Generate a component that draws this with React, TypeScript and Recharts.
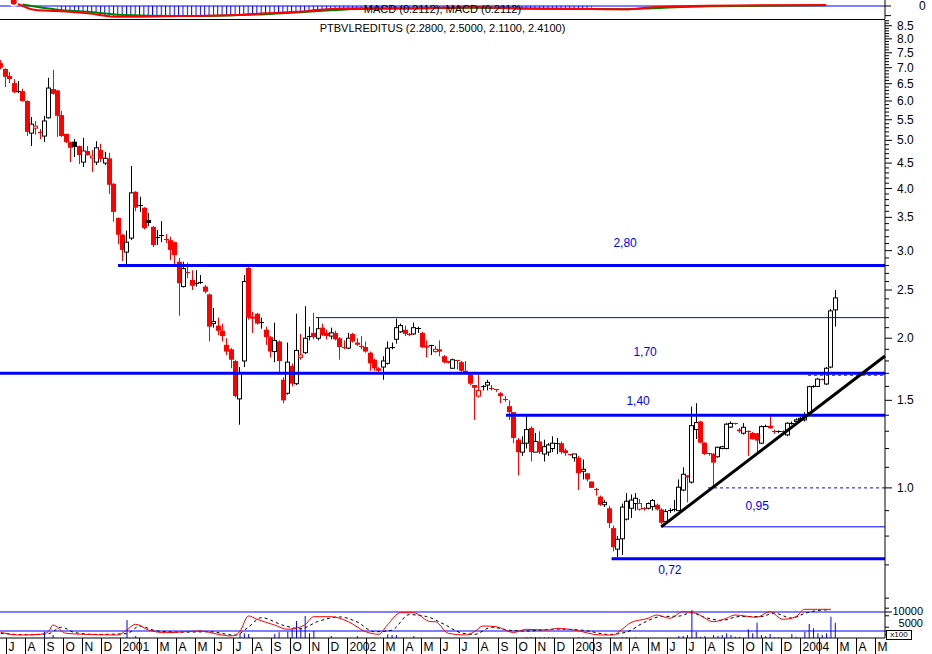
import { ComposedChart, Bar, Line, Area, XAxis, YAxis, ReferenceLine, ReferenceDot } from 'recharts';

const FONT = '"Liberation Sans", Arial, sans-serif';
const BLUE = '#0000ff';
const RED = '#ff0000';
const AXIS_W = 47;
const X_DOMAIN: [number, number] = [-0.16, 203.52];

// weekly candles, week 0 = last week of June 2000
const opens = [
  7.15, 6.96, 6.74, 6.52, 6.28, 6.28, 6.0, 5.17, 5.29, 5.19,
  5.1, 5.55, 6.34, 6.3, 5.62, 5.15, 4.96, 4.97, 4.87, 4.52,
  4.76, 4.61, 4.52, 4.78, 4.5, 4.6, 4.09, 3.49, 3.23, 2.98,
  3.18, 3.94, 3.71, 3.66, 3.46, 3.35, 3.19, 3.22, 3.17, 3.15,
  3.12, 2.85, 2.54, 2.72, 2.62, 2.58, 2.59, 2.54, 2.45, 2.14,
  2.12, 2.07, 1.94, 1.9, 1.8, 1.51, 1.8, 2.77, 2.21, 2.24,
  2.16, 2.08, 2.01, 1.88, 1.97, 1.65, 1.55, 1.76, 1.62, 1.83,
  1.87, 2.01, 2.05, 2.0, 2.1, 2.05, 2.02, 2.05, 2.0, 1.92,
  1.91, 2.04, 1.96, 1.93, 1.92, 1.87, 1.81, 1.74, 1.75, 1.78,
  1.91, 1.99, 2.06, 2.08, 2.04, 2.04, 2.1, 2.05, 1.93, 1.94,
  1.88, 1.9, 1.84, 1.8, 1.74, 1.81, 1.79, 1.72, 1.69, 1.61,
  1.53, 1.6, 1.61, 1.59, 1.58, 1.55, 1.51, 1.46, 1.42, 1.25,
  1.18, 1.23, 1.32, 1.18, 1.24, 1.17, 1.18, 1.2, 1.23, 1.23,
  1.19, 1.17, 1.15, 1.15, 1.08, 1.07, 1.03, 0.995, 0.96, 0.925,
  0.91, 0.83, 0.753, 0.79, 0.865, 0.91, 0.93, 0.906, 0.91, 0.91,
  0.917, 0.925, 0.905, 0.856, 0.9, 0.9, 0.9, 0.99, 1.06, 1.027,
  1.31, 1.36, 1.233, 1.175, 1.17, 1.155, 1.2, 1.2, 1.325, 1.35,
  1.31, 1.288, 1.3, 1.29, 1.288, 1.23, 1.33, 1.333, 1.3, 1.298,
  1.3, 1.278, 1.345, 1.36, 1.37, 1.37, 1.417, 1.596, 1.6, 1.655,
  1.618, 1.75, 2.28,
];
const highs = [
  7.25, 6.98, 6.86, 6.64, 6.58, 6.35, 6.02, 5.57, 5.47, 5.27,
  5.6, 6.68, 6.93, 6.32, 5.73, 5.16, 4.97, 5.03, 4.88, 5.06,
  4.87, 4.78, 4.98, 4.92, 4.74, 4.72, 4.1, 3.5, 3.24, 3.29,
  4.44, 3.95, 3.85, 3.67, 3.57, 3.36, 3.3, 3.44, 3.24, 3.2,
  3.13, 2.9, 2.85, 2.84, 2.74, 2.74, 2.68, 2.56, 2.46, 2.3,
  2.2, 2.14, 2.0, 1.91, 1.81, 1.75, 2.68, 2.78, 2.26, 2.25,
  2.2, 2.11, 2.02, 2.15, 1.98, 1.67, 1.96, 1.78, 2.24, 2.04,
  2.32, 2.11, 2.25, 2.2, 2.14, 2.08, 2.1, 2.07, 2.01, 1.98,
  2.05, 2.05, 2.0, 2.02, 1.97, 1.88, 1.82, 1.75, 1.84, 1.97,
  1.96, 2.19, 2.14, 2.12, 2.05, 2.15, 2.11, 2.06, 1.98, 1.94,
  1.93, 1.98, 1.85, 1.8, 1.82, 1.81, 1.8, 1.8, 1.7, 1.61,
  1.69, 1.61, 1.65, 1.61, 1.58, 1.56, 1.53, 1.5, 1.42, 1.26,
  1.27, 1.4, 1.33, 1.29, 1.3, 1.25, 1.23, 1.27, 1.26, 1.24,
  1.2, 1.17, 1.17, 1.16, 1.14, 1.07, 1.03, 1.0, 0.965, 0.945,
  0.92, 0.84, 0.8, 0.93, 0.976, 0.97, 0.976, 0.95, 0.915, 0.935,
  0.95, 0.93, 0.91, 0.906, 0.91, 0.946, 1.04, 1.1, 1.06, 1.457,
  1.48, 1.365, 1.235, 1.175, 1.175, 1.21, 1.215, 1.35, 1.36, 1.352,
  1.32, 1.35, 1.305, 1.295, 1.29, 1.335, 1.34, 1.4, 1.31, 1.305,
  1.305, 1.355, 1.36, 1.38, 1.39, 1.42, 1.605, 1.61, 1.665, 1.66,
  1.75, 2.29, 2.5,
];
const lows = [
  6.95, 6.4, 6.52, 6.22, 6.22, 5.98, 5.1, 4.87, 5.13, 5.03,
  4.96, 5.53, 6.18, 5.08, 5.08, 4.94, 4.52, 4.63, 4.48, 4.42,
  4.66, 4.32, 4.46, 4.52, 4.46, 3.9, 3.43, 3.09, 2.86, 2.79,
  3.15, 3.6, 3.59, 3.31, 3.36, 3.05, 3.08, 3.12, 3.11, 2.87,
  2.81, 2.22, 2.53, 2.64, 2.5, 2.54, 2.57, 2.46, 1.97, 2.1,
  2.03, 1.97, 1.85, 1.74, 1.52, 1.34, 1.75, 2.18, 2.05, 2.13,
  2.09, 1.94, 1.83, 1.79, 1.71, 1.48, 1.54, 1.6, 1.61, 1.81,
  1.86, 1.98, 1.99, 1.98, 2.02, 1.99, 1.99, 1.98, 1.81, 1.9,
  1.9, 1.96, 1.93, 1.9, 1.87, 1.72, 1.72, 1.71, 1.65, 1.77,
  1.9, 1.95, 2.05, 2.02, 2.02, 2.03, 2.05, 1.91, 1.83, 1.85,
  1.87, 1.84, 1.78, 1.78, 1.74, 1.73, 1.71, 1.69, 1.61, 1.37,
  1.52, 1.57, 1.57, 1.57, 1.56, 1.48, 1.49, 1.37, 1.23, 1.06,
  1.16, 1.2, 1.13, 1.18, 1.17, 1.13, 1.16, 1.18, 1.17, 1.17,
  1.16, 1.16, 1.13, 0.99, 1.04, 1.03, 1.0, 0.965, 0.92, 0.915,
  0.83, 0.745, 0.725, 0.733, 0.86, 0.87, 0.9, 0.9, 0.9, 0.905,
  0.9, 0.9, 0.845, 0.85, 0.89, 0.896, 0.9, 0.985, 0.935, 1.02,
  1.254, 1.23, 1.165, 1.16, 1.006, 1.15, 1.195, 1.195, 1.32, 1.34,
  1.29, 1.28, 1.16, 1.25, 1.174, 1.225, 1.325, 1.315, 1.285, 1.29,
  1.29, 1.27, 1.34, 1.355, 1.365, 1.36, 1.41, 1.59, 1.595, 1.645,
  1.61, 1.74, 2.11,
];
const closes = [
  7.0, 6.71, 6.64, 6.25, 6.26, 6.0, 5.2, 5.39, 5.34, 5.17,
  5.47, 6.37, 6.2, 5.6, 5.1, 4.96, 4.83, 4.85, 4.67, 4.76,
  4.67, 4.65, 4.83, 4.59, 4.6, 4.07, 3.59, 3.23, 3.01, 3.12,
  3.92, 3.66, 3.69, 3.33, 3.41, 3.08, 3.17, 3.23, 3.16, 3.01,
  2.94, 2.58, 2.76, 2.71, 2.55, 2.57, 2.6, 2.48, 2.11, 2.16,
  2.07, 2.02, 1.88, 1.81, 1.53, 1.7, 2.6, 2.2, 2.19, 2.14,
  2.15, 2.01, 1.88, 1.98, 1.8, 1.5, 1.79, 1.62, 1.89, 1.85,
  2.0, 2.02, 2.01, 2.09, 2.03, 2.02, 2.05, 1.99, 1.92, 1.91,
  2.0, 1.97, 1.94, 1.92, 1.88, 1.78, 1.74, 1.72, 1.8, 1.91,
  1.92, 2.1, 2.12, 2.04, 2.03, 2.1, 2.1, 1.92, 1.915, 1.94,
  1.9, 1.88, 1.79, 1.785, 1.81, 1.8, 1.72, 1.7, 1.62, 1.59,
  1.57, 1.605, 1.63, 1.58, 1.57, 1.53, 1.5, 1.42, 1.26, 1.18,
  1.23, 1.31, 1.18, 1.24, 1.18, 1.21, 1.22, 1.23, 1.23, 1.18,
  1.175, 1.165, 1.17, 1.07, 1.09, 1.04, 1.0, 0.99, 0.925, 0.935,
  0.85, 0.76, 0.788, 0.915, 0.94, 0.945, 0.953, 0.93, 0.905, 0.93,
  0.943, 0.905, 0.851, 0.896, 0.902, 0.905, 1.003, 1.065, 1.05, 1.334,
  1.353, 1.233, 1.17, 1.168, 1.124, 1.207, 1.21, 1.343, 1.348, 1.345,
  1.3, 1.324, 1.298, 1.253, 1.245, 1.328, 1.334, 1.318, 1.298, 1.3,
  1.295, 1.349, 1.352, 1.37, 1.38, 1.395, 1.598, 1.6, 1.655, 1.65,
  1.74, 2.27, 2.41,
];

// MACD panel
const macdWeeks = [3, 8, 13, 20, 27, 41, 54, 61, 68, 75, 82, 95, 109, 122, 136, 144, 150, 163, 190];
const macdValues = [0.9, -0.84, -1.05, -1.53, -2.25, -2.1, -1.89, -1.53, -1.2, -0.69, -0.48, -0.48, -0.27, -0.57, -0.63, -0.69, -0.27, 0.06, 0.21];
const signalWeeks = [5, 13, 20, 27, 41, 54, 61, 68, 75, 82, 95, 109, 122, 136, 144, 150, 163, 190];
const signalValues = [0.3, -0.75, -1.2, -1.8, -2.1, -1.9, -1.7, -1.35, -0.95, -0.6, -0.5, -0.35, -0.5, -0.6, -0.65, -0.45, -0.05, 0.15];

// volume panel (x100)
const volWeeks = [10, 12, 29, 31, 55, 56, 57, 63, 64, 66, 67, 68, 69, 70, 71, 72, 76, 82, 89, 90, 91, 95, 121, 122, 123, 124, 125, 126, 127, 133, 134, 143, 144, 146, 156, 157, 158, 159, 160, 161, 162, 164, 165, 166, 167, 168, 169, 170, 172, 173, 174, 175, 176, 177, 178, 179, 182, 183, 185, 186, 187, 188, 189, 190, 191, 192];
const volValues = [4820, 3950, 7890, 3700, 4390, 4390, 4210, 4210, 4650, 4820, 5700, 7630, 5700, 8950, 4390, 5090, 3690, 3690, 4130, 3950, 3950, 3690, 3340, 3340, 3340, 3340, 3340, 3340, 3340, 3340, 3340, 3340, 3340, 3340, 3690, 3690, 3950, 10520, 4820, 3520, 3690, 3950, 3690, 3950, 4390, 3950, 3520, 3520, 5440, 4390, 7190, 3950, 3690, 4210, 3340, 3340, 4210, 3520, 4820, 6840, 5700, 4390, 3950, 4390, 8770, 7190];
const volAvgWeeks = [0, 4, 9, 11, 12, 15, 19, 27, 29, 31, 34, 38, 46, 50, 53, 55, 57, 59, 63, 66, 70, 72, 76, 80, 84, 87, 89, 92, 95, 99, 100, 103, 107, 109, 111, 114, 118, 121, 126, 128, 132, 138, 141, 143, 145, 149, 151, 154, 157, 160, 164, 167, 169, 174, 177, 180, 183, 185, 188, 191];
const volAvgValues = [4660, 3950, 4130, 4820, 6580, 4400, 4130, 3950, 5260, 6760, 5260, 4550, 5000, 4130, 3690, 4820, 8950, 8080, 6580, 5450, 6580, 8760, 8760, 7450, 4820, 4130, 6580, 9810, 9810, 7450, 7450, 4400, 3950, 4820, 6320, 6140, 4600, 5450, 5260, 5710, 5260, 3950, 3950, 5450, 7190, 8340, 9210, 8340, 10080, 9660, 7450, 8340, 9210, 8600, 10080, 8080, 8760, 10700, 10700, 10700];
const volSlowWeeks = [0, 6, 11, 14, 17, 22, 29, 32, 36, 42, 48, 54, 57, 60, 65, 69, 73, 78, 82, 86, 90, 94, 98, 102, 106, 109, 113, 117, 121, 128, 134, 140, 144, 148, 152, 156, 159, 162, 166, 170, 175, 178, 182, 185, 188, 191];
const volSlowValues = [4400, 4000, 4300, 6000, 4600, 4100, 4300, 6300, 5000, 4700, 4800, 3900, 6000, 8500, 6500, 5600, 7500, 8700, 7400, 4800, 5200, 9300, 8800, 6800, 4500, 4100, 6000, 5200, 5000, 5500, 5200, 4100, 4700, 7200, 8800, 8900, 9800, 8600, 7800, 8800, 8800, 9700, 8400, 9600, 10400, 10600];

// support / resistance levels
const thickLevels = [2.8, 1.7, 1.4, 0.72];
const thickStarts = [27, -0.16, 116.3, 140.6];
const thinLevels = [2.2, 0.835];
const thinStarts = [72.5, 152];
const dashLevels = [1.0, 1.685];
const dashStarts = [162.8, 185.8];
const levelLabels = ['2,80', '1,70', '1,40', '0,95', '0,72'];
const labelWeeks = [143.7, 148.3, 146.7, 174.1, 154.0];
const labelPrices = [3.11, 1.877, 1.5, 0.92, 0.684];
const trendWeeks = [152, 203.52];
const trendPrices = [0.835, 1.842];

const monthLabels = [
  'J', 'A', 'S', 'O', 'N', 'D',
  '2001', '', 'M', 'A', 'M', 'J', 'J', 'A', 'S', 'O', 'N', 'D',
  '2002', '', 'M', 'A', 'M', 'J', 'J', 'A', 'S', 'O', 'N', 'D',
  '2003', '', 'M', 'A', 'M', 'J', 'J', 'A', 'S', 'O', 'N', 'D',
  '2004', '', 'M', 'A', 'M',
];

const candles = opens.map((open, i) => ({
  i,
  open,
  high: highs[i],
  low: lows[i],
  close: closes[i],
  prev: i > 0 ? closes[i - 1] : open,
  range: [lows[i], highs[i]],
}));
const macdData = macdWeeks.map((i, k) => ({ i, v: macdValues[k] }));
const histData = macdData.filter((d) => d.i >= 13 && d.i <= 136);
const signalData = signalWeeks.map((i, k) => ({ i, v: signalValues[k] }));
const volData = volWeeks.map((i, k) => ({ i, v: volValues[k] }));
const volAvgData = volAvgWeeks.map((i, k) => ({ i, v: volAvgValues[k] }));
const volSlowData = volSlowWeeks.map((i, k) => ({ i, v: volSlowValues[k] }));

// month ticks on the week axis (week 0 starts 22 Jun 2000)
const WEEK0 = Date.UTC(2000, 5, 22, 12);
const monthTicks = monthLabels.map((_, m) => (Date.UTC(2000, 6 + m, 1) - WEEK0) / (7 * 86400000));

const priceMinorTicks: number[] = [];
for (let k = 6; k <= 87; k++) priceMinorTicks.push(k / 10);

const Candle = (props: any) => {
  const { x, y, width, height, payload } = props;
  if (!payload || x == null) return null;
  const { open, close, high, low, prev } = payload;
  const top = Math.min(y, y + height);
  const h = Math.abs(height);
  const span = Math.log(high) - Math.log(low);
  const toY = (v: number) => (span > 0 ? top + (h * (Math.log(high) - Math.log(v))) / span : top);
  const cx = Math.round(x + width / 2);
  const color = close < prev ? RED : '#000000';
  const bTop = toY(Math.max(open, close));
  const bBot = toY(Math.min(open, close));
  const bh = bBot - bTop;
  return (
    <g>
      <line x1={cx + 0.5} x2={cx + 0.5} y1={top} y2={top + h} stroke={color} strokeWidth={1} />
      {bh < 1.5 ? (
        <line x1={cx - 2} x2={cx + 3} y1={Math.round(bTop) + 0.5} y2={Math.round(bTop) + 0.5} stroke={color} strokeWidth={1} />
      ) : close > open ? (
        <rect x={cx - 1.5} y={bTop} width={4} height={bh} fill="#ffffff" stroke={color} strokeWidth={1} />
      ) : (
        <rect x={cx - 2} y={bTop} width={5} height={bh} fill={color} />
      )}
    </g>
  );
};

const PriceTick = (props: any) => {
  const { x, y, payload } = props;
  const v = payload.value;
  const major = v >= 1 && Math.abs(v * 2 - Math.round(v * 2)) < 1e-6;
  return (
    <g>
      <line x1={x} x2={x + (major ? 7 : 4)} y1={y} y2={y} stroke="#000" />
      {major && (
        <text x={x + 12} y={y + 4} fontSize={12} fontFamily={FONT} fill="#000">
          {v.toFixed(1)}
        </text>
      )}
    </g>
  );
};

const MacdTick = (props: any) => {
  const { x, y, payload } = props;
  return (
    <g>
      <line x1={x} x2={x + 6} y1={y} y2={y} stroke="#000" />
      {payload.value === 0 && (
        <text x={x + 34} y={y + 4} fontSize={12} fontFamily={FONT} fill="#000">
          0
        </text>
      )}
    </g>
  );
};

const VolTick = (props: any) => {
  const { x, y, payload } = props;
  const labelled = payload.value === 5000 || payload.value === 10000;
  return (
    <g>
      <line x1={x} x2={x + (labelled ? 7 : 4)} y1={y} y2={y} stroke="#000" />
      {labelled && (
        <text x={x + 38} y={payload.value === 5000 ? y - 4 : y + 3} fontSize={11} fontFamily={FONT} fill="#000" textAnchor="end">
          {payload.value}
        </text>
      )}
    </g>
  );
};

const MonthTick = (props: any) => {
  const { x, y, index } = props;
  const px = Math.round(x) + 0.5;
  return (
    <g>
      <line x1={px} x2={px} y1={y} y2={y + 16} stroke="#000" />
      <text x={px + 2} y={y + 13} fontSize={12} fontFamily={FONT} fill="#000">
        {monthLabels[index]}
      </text>
    </g>
  );
};

export default function App() {
  return (
    <div style={{ position: 'absolute', left: 0, top: 0, width: 932, height: 654, background: '#fff', overflow: 'hidden', fontFamily: FONT }}>
      {/* MACD panel */}
      <div style={{ position: 'absolute', left: 0, top: 0 }}>
        <ComposedChart width={932} height={19} data={histData} margin={{ top: 0, right: 0, bottom: 0, left: 0 }}>
          <defs>
            <pattern id="macdHatch" patternUnits="userSpaceOnUse" width={4.345} height={20}>
              <rect x={0} y={0} width={1} height={20} fill={BLUE} />
            </pattern>
          </defs>
          <XAxis dataKey="i" type="number" domain={X_DOMAIN} allowDataOverflow hide />
          <YAxis
            orientation="right"
            width={AXIS_W}
            type="number"
            domain={[-2.7, 1.25]}
            allowDataOverflow
            ticks={[0, -2]}
            interval={0}
            tick={<MacdTick />}
            tickLine={false}
            tickSize={0}
            tickMargin={0}
            axisLine={{ stroke: '#000' }}
          />
          <ReferenceLine y={0} stroke={BLUE} strokeWidth={1} />
          <Area data={histData} dataKey="v" type="monotone" baseValue={0} fill="url(#macdHatch)" fillOpacity={1} stroke="none" isAnimationActive={false} />
          <Line data={signalData} dataKey="v" type="monotone" stroke="#008000" strokeWidth={2} dot={false} isAnimationActive={false} />
          <Line data={macdData} dataKey="v" type="monotone" stroke={RED} strokeWidth={2} dot={false} isAnimationActive={false} />
        </ComposedChart>
      </div>
      <div style={{ position: 'absolute', left: 0, top: 19, width: 885, height: 1, background: '#000' }} />
      <div style={{ position: 'absolute', left: 0, top: 3, width: 885, textAlign: 'center', fontSize: 11, lineHeight: '13px', color: '#000' }}>
        MACD (0.2112), MACD (0.2112)
      </div>

      {/* price panel */}
      <div style={{ position: 'absolute', left: 0, top: 20 }}>
        <ComposedChart width={932} height={587} data={candles} margin={{ top: 0, right: 0, bottom: 0, left: 0 }}>
          <XAxis dataKey="i" type="number" domain={X_DOMAIN} allowDataOverflow hide />
          <YAxis
            orientation="right"
            width={AXIS_W}
            type="number"
            scale="log"
            domain={[0.576, 8.73]}
            allowDataOverflow
            ticks={priceMinorTicks}
            interval={0}
            tick={<PriceTick />}
            tickLine={false}
            tickSize={0}
            tickMargin={0}
            axisLine={{ stroke: '#000' }}
          />
          {thickLevels.map((v, k) => (
            <ReferenceLine key={'t' + k} segment={[{ x: thickStarts[k], y: v }, { x: X_DOMAIN[1], y: v }]} stroke={BLUE} strokeWidth={3} ifOverflow="visible" />
          ))}
          {thinLevels.map((v, k) => (
            <ReferenceLine key={'n' + k} segment={[{ x: thinStarts[k], y: v }, { x: X_DOMAIN[1], y: v }]} stroke={BLUE} strokeWidth={1} ifOverflow="visible" />
          ))}
          {dashLevels.map((v, k) => (
            <ReferenceLine key={'d' + k} segment={[{ x: dashStarts[k], y: v }, { x: X_DOMAIN[1], y: v }]} stroke={BLUE} strokeWidth={1} strokeDasharray="3 3" ifOverflow="visible" />
          ))}
          <Bar dataKey="range" barSize={5} shape={<Candle />} isAnimationActive={false} />
          <ReferenceLine
            segment={[{ x: trendWeeks[0], y: trendPrices[0] }, { x: trendWeeks[1], y: trendPrices[1] }]}
            stroke="#000"
            strokeWidth={3}
            ifOverflow="visible"
          />
          {levelLabels.map((t, k) => (
            <ReferenceDot
              key={'l' + k}
              x={labelWeeks[k]}
              y={labelPrices[k]}
              r={0}
              fill="none"
              stroke="none"
              label={{ value: t, position: 'center', fill: BLUE, fontSize: 12, fontFamily: FONT }}
            />
          ))}
        </ComposedChart>
      </div>
      <div style={{ position: 'absolute', left: 0, top: 22, width: 885, textAlign: 'center', fontSize: 11, lineHeight: '13px', color: '#000' }}>
        PTBVLREDITUS (2.2800, 2.5000, 2.1100, 2.4100)
      </div>

      {/* volume panel */}
      <div style={{ position: 'absolute', left: 0, top: 597 }}>
        <ComposedChart width={932} height={57} data={volData} margin={{ top: 10, right: 0, bottom: 0, left: 0 }}>
          <XAxis
            dataKey="i"
            type="number"
            domain={X_DOMAIN}
            allowDataOverflow
            ticks={monthTicks}
            interval={0}
            height={16}
            tick={<MonthTick />}
            tickLine={false}
            tickSize={0}
            tickMargin={0}
            axisLine={{ stroke: '#000' }}
          />
          <YAxis
            orientation="right"
            width={AXIS_W}
            type="number"
            domain={[3159, 11312]}
            allowDataOverflow
            ticks={[11000, 10000, 9000, 6000, 5000, 4000]}
            interval={0}
            tick={<VolTick />}
            tickLine={false}
            tickSize={0}
            tickMargin={0}
            axisLine={{ stroke: '#000' }}
          />
          <ReferenceLine y={10000} stroke={BLUE} strokeWidth={1} />
          <ReferenceLine y={5000} stroke={BLUE} strokeWidth={1} />
          <Bar dataKey="v" barSize={1} fill={BLUE} isAnimationActive={false} />
          <Line data={volSlowData} dataKey="v" type="monotone" stroke="#000" strokeWidth={1} strokeDasharray="3 3" dot={false} isAnimationActive={false} />
          <Line data={volAvgData} dataKey="v" type="monotone" stroke={RED} strokeWidth={1} dot={false} isAnimationActive={false} />
        </ComposedChart>
      </div>
      <div style={{ position: 'absolute', left: 886, top: 630, width: 24, height: 8, border: '1px solid #000', background: '#fff', fontSize: 8, lineHeight: '8px', textAlign: 'center', color: '#000' }}>
        x100
      </div>
    </div>
  );
}
